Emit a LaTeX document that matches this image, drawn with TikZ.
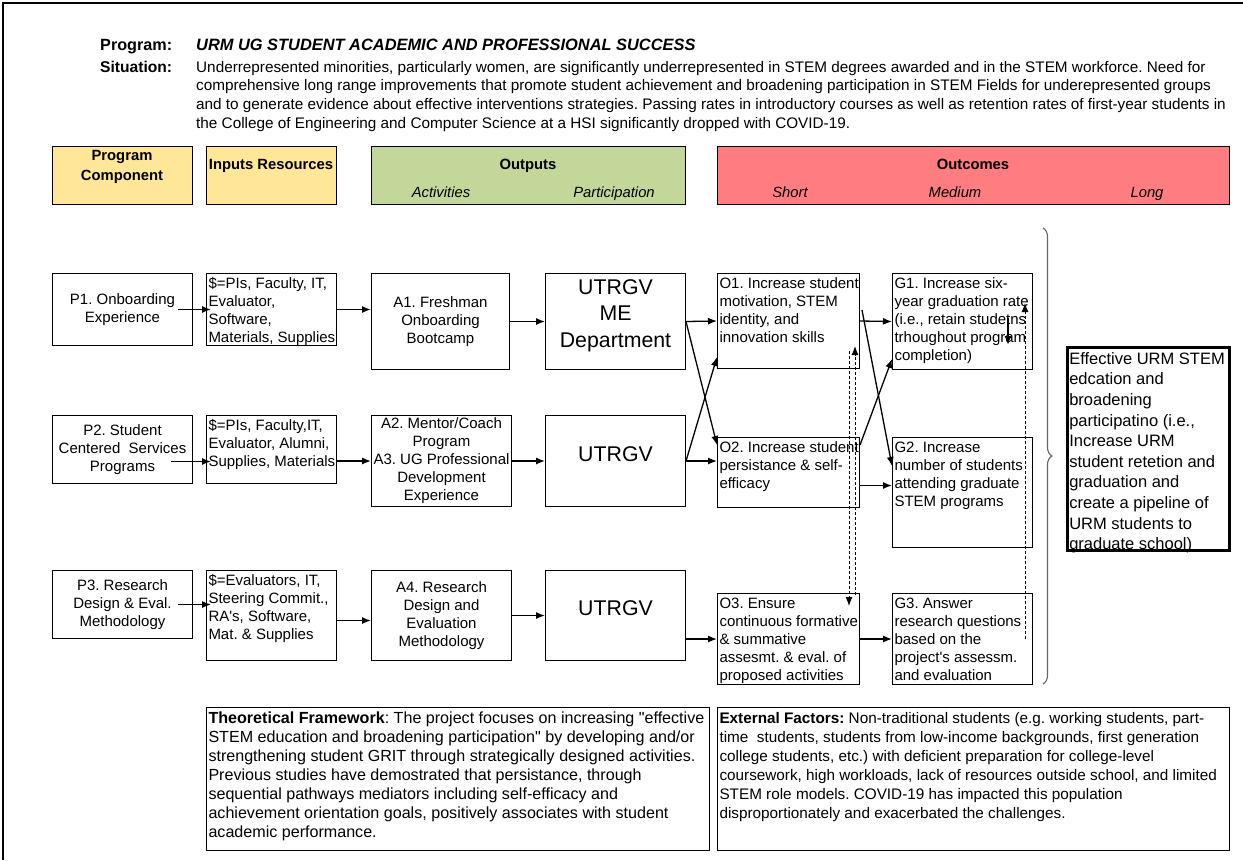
\documentclass[tikz,border=0pt]{standalone}
\usepackage{fontspec}
\setmainfont{Liberation Sans}
\usetikzlibrary{arrows.meta,decorations.pathreplacing}
\definecolor{hdryellow}{HTML}{FFE699}
\definecolor{hdrgreen}{HTML}{C4D79B}
\definecolor{hdrred}{HTML}{FF7C80}
\frenchspacing
% box contents: top-left, top-centred, centred
\newcommand{\topcell}[4][2pt]{\parbox[c][#3pt][t]{\dimexpr#2pt-4pt\relax}{\vspace*{#1}\begin{tabular}{@{}l@{}}#4\end{tabular}}}
\newcommand{\ctopcell}[4][2pt]{\parbox[c][#3pt][t]{\dimexpr#2pt-4pt\relax}{\vspace*{#1}\centering\begin{tabular}{@{}c@{}}#4\end{tabular}}}
\newcommand{\midcell}[3]{\parbox[c][#2pt][c]{\dimexpr#1pt-4pt\relax}{\centering\begin{tabular}{@{}c@{}}#3\end{tabular}}}
\begin{document}
\begin{tikzpicture}[x=1pt, y=-1pt, font=\fontsize{15}{18}\selectfont,
    cell/.style={draw, line width=1pt, inner xsep=2pt, inner ysep=0pt, anchor=north west},
    hdrbox/.style={draw, line width=1.3pt, anchor=north west, minimum height=58pt, inner sep=0pt},
    hdrtxt/.style={font=\fontsize{14.8}{20}\selectfont\bfseries, anchor=base, inner sep=0pt},
    subtxt/.style={font=\fontsize{14.8}{18}\selectfont\itshape, anchor=base, inner sep=0pt},
    bigtxt/.style={font=\fontsize{21.3}{26.5}\selectfont},
    arr/.style={-{Latex[length=9pt,width=7pt]}, line width=1.3pt},
    dasharr/.style={arr, line width=1pt, dash pattern=on 3pt off 2pt}]
    \useasboundingbox (0,0) rectangle (1243,860);

    % Frame
    \coordinate (frBL) at (3,860);
    \coordinate (frTL) at (3,3);
    \coordinate (frTR) at (1243,3);
    \draw[line width=2pt] (frBL) -- (frTL) -- (frTR);

    % Program and situation
    \node[font=\fontsize{16.2}{18}\selectfont\bfseries, anchor=base west, inner sep=0pt] (progL) at (100,50) {Program:};
    \node[font=\fontsize{16.4}{18}\selectfont\bfseries\itshape, anchor=base west, inner sep=0pt] (progT) at (196,50) {URM UG STUDENT ACADEMIC AND PROFESSIONAL SUCCESS};
    \node[font=\fontsize{15.6}{18}\selectfont\bfseries, anchor=base west, inner sep=0pt] (sitL) at (100,72) {Situation:};
    \node[font=\fontsize{15.3}{18.7}\selectfont, anchor=base west, inner sep=0pt] (sitT) at (196,72) {\begin{tabular}[t]{@{}l@{}}
        Underrepresented minorities, particularly women, are significantly underrepresented in STEM degrees awarded and in the STEM workforce. Need for\\
        comprehensive long range improvements that promote student achievement and broadening participation in STEM Fields for underepresented groups\\
        and to generate evidence about effective interventions strategies. Passing rates in introductory courses as well as retention rates of first-year students in\\
        the College of Engineering and Computer Science at a HSI significantly dropped with COVID-19.\end{tabular}};

    % Column headers
    \node[hdrbox, fill=hdryellow, minimum width=140pt] (hPC) at (52,146) {};
    \node[hdrbox, fill=hdryellow, minimum width=130pt] (hIR) at (206,146) {};
    \node[hdrbox, fill=hdrgreen, minimum width=314pt] (hOut) at (371,146) {};
    \node[hdrbox, fill=hdrred, minimum width=512pt] (hOc) at (717,146) {};
    \node[hdrtxt] (tPC) at (122,160) {\begin{tabular}[t]{@{}c@{}}Program\\Component\end{tabular}};
    \node[hdrtxt] (tIR) at (271,169) {Inputs Resources};
    \node[hdrtxt] (tOut) at (528,169) {Outputs};
    \node[hdrtxt] (tOc) at (973,169) {Outcomes};
    \foreach \X/\T in {441/Activities, 614/Participation, 790/Short, 955/Medium, 1147/Long} {
        \node[subtxt] (sub\X) at (\X,197) {\T};
    }

    % Row 1
    \node[cell] (P1) at (52,273) {\midcell{140}{72}{P1. Onboarding\\Experience}};
    \node[cell] (I1) at (206,273) {\topcell{130}{72}{\$=PIs, Faculty, IT,\\Evaluator,\\Software,\\Materials, Supplies}};
    \node[cell] (A1) at (371,273) {\midcell{138}{96}{A1. Freshman\\Onboarding\\Bootcamp}};
    \node[cell, bigtxt] (D1) at (545,273) {\ctopcell{140}{96}{UTRGV\\ME\\Department}};
    \node[cell] (O1) at (717,273) {\topcell{142}{95}{O1. Increase student\\motivation, STEM\\identity, and\\innovation skills}};
    \node[cell] (G1) at (892,273) {\topcell{140}{96}{G1. Increase six-\\year graduation rate\\(i.e., retain studetns\\trhoughout program\\completion)}};

    % Row 2
    \node[cell] (P2) at (52,415) {\midcell{140}{68}{P2. Student\\Centered~ Services\\Programs}};
    \node[cell] (I2) at (206,415) {\topcell{130}{68}{\$=PIs, Faculty,IT,\\Evaluator, Alumni,\\Supplies, Materials}};
    \node[cell] (A2) at (371,415) {\midcell{140}{91}{A2. Mentor/Coach\\Program\\A3. UG Professional\\Development\\Experience}};
    \node[cell, bigtxt] (D2) at (545,415) {\ctopcell[27pt]{140}{91}{UTRGV}};
    \node[cell] (O2) at (717,437) {\topcell{142}{70}{O2. Increase student\\persistance \& self-\\efficacy}};
    \node[cell] (G2) at (892,437) {\topcell{140}{110}{G2. Increase\\number of students\\attending graduate\\STEM programs}};

    % Row 3
    \node[cell] (P3) at (52,570) {\midcell{140}{68}{P3. Research\\Design \& Eval.\\Methodology}};
    \node[cell] (I3) at (206,570) {\topcell{130}{90}{\$=Evaluators, IT,\\Steering Commit.,\\RA\textquotesingle s, Software,\\Mat. \& Supplies}};
    \node[cell] (A4) at (371,570) {\midcell{140}{90}{A4. Research\\Design and\\Evaluation\\Methodology}};
    \node[cell, bigtxt] (D3) at (545,570) {\ctopcell[26.5pt]{140}{90}{UTRGV}};
    \node[cell] (O3) at (717,593) {\topcell{142}{91}{O3. Ensure\\continuous formative\\\& summative\\assesmt. \& eval. of\\proposed activities}};
    \node[cell] (G3) at (892,593) {\topcell{140}{91}{G3. Answer\\research questions\\based on the\\project\textquotesingle s assessm.\\and evaluation}};

    % Long-term outcome
    \coordinate (brTop) at (1043,228);
    \coordinate (brBot) at (1043,684);
    \draw[decorate, decoration={brace, amplitude=9pt}, line width=1.1pt, draw=black!60] (brTop) -- (brBot);
    \node[cell, line width=2.5pt, font=\fontsize{16.5}{20.6}\selectfont] (EFF) at (1066,346) {\topcell[2.6pt]{162}{203}{Effective URM STEM\\edcation and\\broadening\\participatino (i.e.,\\Increase URM\\student retetion and\\graduation and\\create a pipeline of\\URM students to\\graduate school)}};

    % Framework and external factors
    \node[cell, font=\fontsize{16.1}{19}\selectfont] (TF) at (206,707) {\topcell[2.7pt]{503}{143}{\textbf{Theoretical Framework}: The project focuses on increasing \textquotedbl effective\\
        STEM education and broadening participation\textquotedbl\ by developing and/or\\
        strengthening student GRIT through strategically designed activities.\\
        Previous studies have demostrated that persistance, through\\
        sequential pathways mediators including self-efficacy and\\
        achievement orientation goals, positively associates with student\\
        academic performance.}};
    \node[cell, font=\fontsize{15.3}{19}\selectfont] (EF) at (717,707) {\topcell[2.7pt]{512}{143}{\textbf{External Factors:} Non-traditional students (e.g. working students, part-\\
        time~ students, students from low-income backgrounds, first generation\\
        college students, etc.) with deficient preparation for college-level\\
        coursework, high workloads, lack of resources outside school, and limited\\
        STEM role models. COVID-19 has impacted this population\\
        disproportionately and exacerbated the challenges.}};

    % Row 1 arrows
    \draw[arr] ([xshift=-15pt]P1.east) -- ([xshift=5pt]I1.west);
    \draw[arr] (I1.east) -- (I1.east -| A1.west);
    \draw[arr] (A1.east) -- (D1.west);
    \draw[arr] (D1.east) -- (O1.west);
    \draw[arr] (D1.east) -- ([yshift=-8pt]O2.north west);
    \draw[arr] (O1.east) -- (G1.west);
    \draw[arr] ([xshift=2pt,yshift=-37pt]O1.north east) -- ([yshift=-29pt]G2.north west);

    % Row 2 arrows
    \draw[arr] ([xshift=-22pt,yshift=-12pt]P2.east) -- ([xshift=5pt,yshift=-12pt]I2.west);
    \draw[arr] (I2.east |- A2.west) -- (A2.west);
    \draw[arr] (A2.east) -- (D2.west);
    \draw[arr] (D2.east) -- ([yshift=12pt]O1.south west);
    \draw[arr] (D2.east) -- (D2.east -| O2.west);
    \draw[arr] ([yshift=-8pt]O2.north east) -- ([yshift=11pt]G1.south west);
    \draw[arr] ([yshift=-13pt]O2.east) -- ([yshift=-13pt]O2.east -| G2.west);

    % Row 3 arrows
    \draw[arr] ([xshift=-15pt]P3.east) -- ([xshift=5pt]P3.east -| I3.west);
    \draw[arr] ([yshift=-5pt]I3.east) -- ([yshift=-5pt]A4.west);
    \draw[arr] (A4.east) -- (D3.west);
    \draw[arr] (D3.east |- O3.west) -- (O3.west);
    \draw[arr] (O3.east) -- (G3.west);

    % Feedback (dashed)
    \draw[dasharr] ([xshift=-11pt,yshift=18pt]O1.south east) -- ([xshift=-11pt,yshift=-13pt]O3.north east);
    \draw[dasharr] ([xshift=-5pt,yshift=-2pt]O3.north east) -- ([xshift=-5pt,yshift=23pt]O1.south east);
    \draw[dasharr] ([xshift=-8pt]G3.east) -- ([xshift=-8pt,yshift=-30pt]G1.north east);
    \draw[arr] ([xshift=-25pt,yshift=-45pt]G1.north east) -- ([xshift=-25pt,yshift=-72pt]G1.north east);
\end{tikzpicture}
\end{document}
